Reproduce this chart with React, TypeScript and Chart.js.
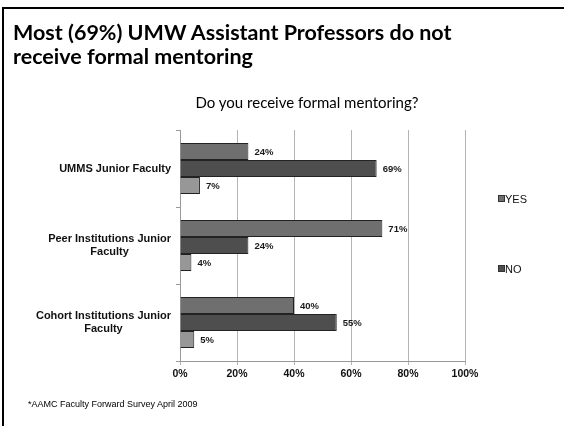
import React, { useEffect, useRef } from "react";
import { Chart, registerables } from "chart.js";

Chart.register(...registerables);

const categories: string[][] = [
  ["UMMS Junior Faculty"],
  ["Peer Institutions Junior", "Faculty"],
  ["Cohort Institutions Junior", "Faculty"],
];
const yesValues = [24, 71, 40];
const noValues = [69, 24, 55];
const otherValues = [7, 4, 5];
const seriesNames = ["YES", "NO", ""];
const xTicks = [0, 20, 40, 60, 80, 100];

const AXIS_FONT = '"Liberation Sans", Arial, sans-serif';

const labelPlugin = {
  id: "customLabels",
  afterDatasetsDraw(chart: any) {
    const ctx = chart.ctx;
    ctx.save();
    // data labels
    ctx.font = `bold 9.5px ${AXIS_FONT}`;
    ctx.fillStyle = "#1a1a1a";
    ctx.textAlign = "left";
    ctx.textBaseline = "middle";
    chart.data.datasets.forEach((ds: any, i: number) => {
      const meta = chart.getDatasetMeta(i);
      meta.data.forEach((bar: any, j: number) => {
        ctx.fillText(`${ds.data[j]}%`, bar.x + 6, bar.y + 0.5);
      });
    });
    // category labels, right aligned block, lines centered
    const y = chart.scales.y;
    ctx.font = `bold 11px ${AXIS_FONT}`;
    ctx.fillStyle = "#111";
    ctx.textAlign = "center";
    const right = 171;
    const lh = 12.5;
    categories.forEach((lines, i) => {
      const cy = y.getPixelForValue(i);
      const w = Math.max(...lines.map((l) => ctx.measureText(l).width));
      const cx = right - w / 2;
      const top = cy - ((lines.length - 1) * lh) / 2;
      lines.forEach((l, k) => ctx.fillText(l, cx, top + k * lh));
    });
    // legend
    ctx.font = `11px ${AXIS_FONT}`;
    ctx.textAlign = "left";
    const legendY = [200, 270];
    [0, 1].forEach((i) => {
      const ds = chart.data.datasets[i];
      const ly = legendY[i];
      ctx.fillStyle = ds.backgroundColor;
      ctx.fillRect(498.5, ly - 4.5, 6, 6);
      ctx.strokeStyle = "#333";
      ctx.lineWidth = 1;
      ctx.strokeRect(498.5, ly - 4.5, 6, 6);
      ctx.fillStyle = "#111";
      ctx.fillText(ds.label, 505, ly);
    });
    ctx.restore();
  },
};

export default function App() {
  const ref = useRef<HTMLCanvasElement>(null);
  useEffect(() => {
    document.body.style.margin = "0";
    const chart = new Chart(ref.current!, {
      type: "bar",
      data: {
        labels: categories.map((c) => c.join(" ")),
        datasets: [
          { label: seriesNames[0], data: yesValues, backgroundColor: "#6f6f6f", borderColor: "#222", borderWidth: 1 },
          { label: seriesNames[1], data: noValues, backgroundColor: "#4e4e4e", borderColor: "#222", borderWidth: 1 },
          { label: seriesNames[2], data: otherValues, backgroundColor: "#979797", borderColor: "#222", borderWidth: 1 },
        ],
      },
      options: {
        indexAxis: "y",
        responsive: false,
        animation: false,
        devicePixelRatio: 1,
        layout: { padding: { left: 0, top: 130, right: 99, bottom: 35 } },
        datasets: { bar: { categoryPercentage: 0.66, barPercentage: 1.0 } },
        plugins: { legend: { display: false }, tooltip: { enabled: false } },
        scales: {
          x: {
            min: 0,
            max: 100,
            afterBuildTicks: (s: any) => {
              s.ticks = xTicks.map((v) => ({ value: v }));
            },
            afterFit: (s: any) => {
              s.height = 30;
            },
            ticks: {
              callback: (v: any) => `${v}%`,
              font: { family: AXIS_FONT, size: 10.5, weight: "bold" },
              color: "#111",
              padding: 3,
              maxRotation: 0,
            },
            grid: { color: "#b4b4b4", lineWidth: 1, tickLength: 4 },
            border: { color: "#999", width: 1 },
          },
          y: {
            afterFit: (s: any) => {
              s.width = 180;
            },
            ticks: { display: false },
            grid: { offset: true, drawOnChartArea: false, color: "#999", tickLength: 4 },
            border: { color: "#999", width: 1 },
          },
        },
      },
      plugins: [labelPlugin],
    });
    return () => chart.destroy();
  }, []);

  return (
    <div style={{ position: "absolute", left: 0, top: 0, width: 564, height: 426, background: "#fff", overflow: "hidden" }}>
      <canvas ref={ref} width={564} height={426} style={{ position: "absolute", left: 0, top: 0 }} />
      <div style={{ position: "absolute", left: 2, top: 7, width: 600, height: 430, borderTop: "2px solid #000", borderLeft: "2px solid #000" }} />
      <div
        style={{
          position: "absolute",
          left: 13,
          top: 20,
          fontFamily: "Lato, 'Open Sans', sans-serif",
          fontWeight: 700,
          fontSize: 21.5,
          lineHeight: "24px",
          color: "#000",
          whiteSpace: "nowrap",
        }}
      >
        Most (69%) UMW Assistant Professors do not
        <br />
        receive formal mentoring
      </div>
      <div
        style={{
          position: "absolute",
          left: 0,
          width: 614,
          top: 93,
          textAlign: "center",
          fontFamily: "Lato, 'Open Sans', sans-serif",
          fontSize: 15,
          color: "#000",
          whiteSpace: "nowrap",
        }}
      >
        Do you receive formal mentoring?
      </div>
      <div
        style={{
          position: "absolute",
          left: 28,
          top: 399,
          fontFamily: AXIS_FONT,
          fontSize: 9,
          color: "#000",
        }}
      >
        *AAMC Faculty Forward Survey April 2009
      </div>
    </div>
  );
}
